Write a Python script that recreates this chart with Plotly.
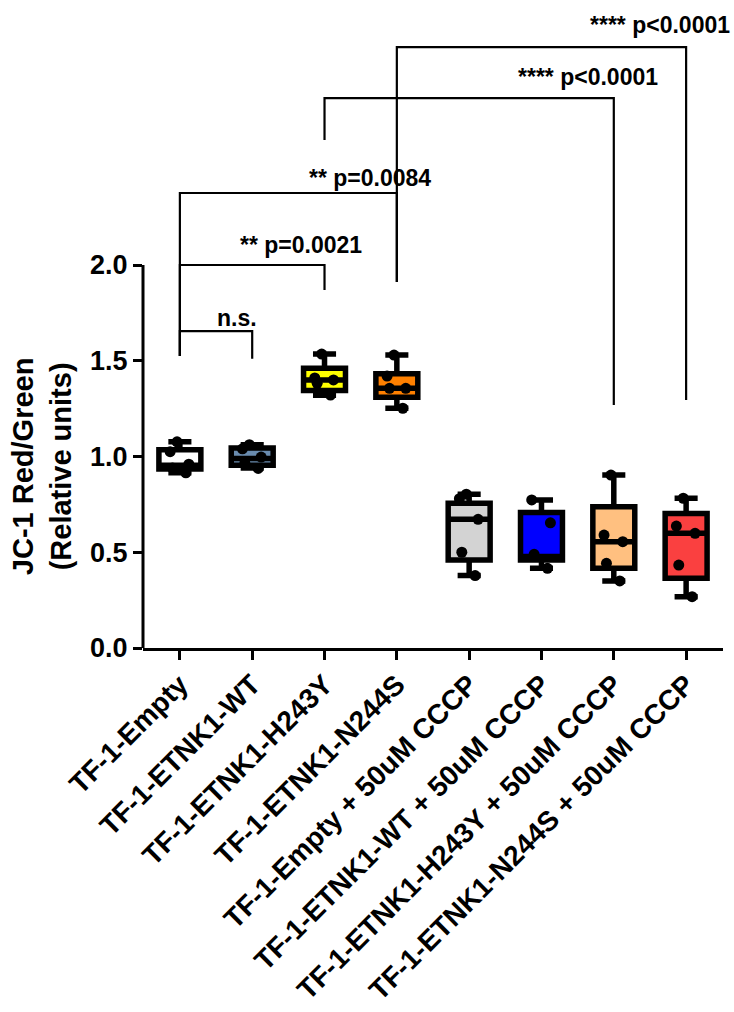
import plotly.graph_objects as go

# Groups on the x axis
groups = [
    "TF-1-Empty",
    "TF-1-ETNK1-WT",
    "TF-1-ETNK1-H243Y",
    "TF-1-ETNK1-N244S",
    "TF-1-Empty + 50uM CCCP",
    "TF-1-ETNK1-WT + 50uM CCCP",
    "TF-1-ETNK1-H243Y + 50uM CCCP",
    "TF-1-ETNK1-N244S + 50uM CCCP",
]

# Box statistics (min-to-max whiskers)
q_min = [0.915, 0.940, 1.320, 1.252, 0.378, 0.416, 0.350, 0.268]
q1 = [0.935, 0.955, 1.345, 1.310, 0.460, 0.460, 0.416, 0.364]
median = [0.955, 0.990, 1.400, 1.356, 0.672, 0.478, 0.555, 0.599]
q3 = [1.035, 1.045, 1.461, 1.432, 0.756, 0.707, 0.738, 0.703]
q_max = [1.077, 1.062, 1.535, 1.530, 0.803, 0.773, 0.903, 0.782]

# Individual replicate measurements
points = [
    [0.915, 0.940, 0.960, 1.025, 1.077],
    [0.938, 0.966, 0.997, 1.040, 1.062],
    [1.321, 1.382, 1.400, 1.410, 1.535],
    [1.252, 1.356, 1.356, 1.420, 1.530],
    [0.378, 0.500, 0.672, 0.780, 0.803],
    [0.416, 0.489, 0.654, 0.773],
    [0.350, 0.442, 0.555, 0.590, 0.903],
    [0.268, 0.433, 0.599, 0.637, 0.782],
]

box_colors = ["#ffffff", "#6a8caf", "#ffff00", "#ff8000",
              "#d3d3d3", "#0000ff", "#ffc080", "#fa4040"]

# Pairwise comparisons: (group a, group b, bar height, leg bottom a, leg bottom b, label)
comparisons = [
    (0, 1, 1.655, 1.525, 1.510, "n.s."),
    (0, 2, 2.000, 1.525, 1.869, "** p=0.0021"),
    (0, 3, 2.376, 1.525, 1.911, "** p=0.0084"),
    (2, 6, 2.872, 2.653, 1.269, "**** p<0.0001"),
    (3, 7, 3.138, 1.911, 1.295, "**** p<0.0001"),
]
# label centre (x in category units, y in data units)
label_pos = [(0.79, 1.723), (1.67, 2.104), (2.63, 2.454), (5.64, 2.982), (6.64, 3.253)]

y_ticks = [0.0, 0.5, 1.0, 1.5, 2.0]

FONT = "Liberation Sans, Arial, sans-serif"

fig = go.Figure()

for i, g in enumerate(groups):
    fig.add_trace(go.Box(
        x=[g], q1=[q1[i]], median=[median[i]], q3=[q3[i]],
        lowerfence=[q_min[i]], upperfence=[q_max[i]],
        fillcolor=box_colors[i],
        line=dict(color="black", width=5.5),
        width=0.58, whiskerwidth=0.55,
        boxpoints=False, showlegend=False, hoverinfo="skip",
    ))
    fig.add_trace(go.Box(
        x=[g] * len(points[i]), y=points[i],
        boxpoints="all", jitter=0.55, pointpos=0,
        fillcolor="rgba(0,0,0,0)", line=dict(color="rgba(0,0,0,0)", width=0),
        marker=dict(color="black", size=11),
        width=0.58, showlegend=False,
    ))

# comparison brackets
for (a, b, h, la, lb, text), (tx, ty) in zip(comparisons, label_pos):
    fig.add_shape(type="path",
                  path=f"M {a},{la} L {a},{h} L {b},{h} L {b},{lb}",
                  xref="x", yref="y",
                  line=dict(color="black", width=2.2))
    fig.add_annotation(x=tx, y=ty, xref="x", yref="y", text=text,
                       showarrow=False, xanchor="center", yanchor="middle",
                       font=dict(family=FONT, size=23, color="black", weight=700))

# y-axis line only over the ticked range
fig.add_shape(type="line", xref="paper", yref="y", x0=0, x1=0, y0=0, y1=2.0,
              line=dict(color="black", width=3))

fig.add_annotation(
    xref="paper", yref="y", x=-0.174, y=0.95,
    text="JC-1 Red/Green<br>(Relative units)", textangle=-90,
    showarrow=False, xanchor="center", yanchor="middle",
    font=dict(family=FONT, size=29, color="black", weight=700),
)

fig.update_layout(
    width=734, height=1012,
    margin=dict(l=143, r=11, t=0, b=364),
    paper_bgcolor="white", plot_bgcolor="white",
    boxmode="overlay", showlegend=False,
    xaxis=dict(
        type="category", categoryorder="array", categoryarray=groups,
        range=[-0.51, 7.51],
        showline=True, linecolor="black", linewidth=3,
        ticks="outside", ticklen=9, tickwidth=3, tickcolor="black",
        tickangle=-45, showgrid=False, zeroline=False, automargin=False,
        ticklabelstandoff=-3,
        tickfont=dict(family=FONT, size=28, color="black", weight=700),
    ),
    yaxis=dict(
        range=[0, 3.384],
        tickvals=y_ticks, ticktext=[f"{v:.1f}" for v in y_ticks],
        showline=False, ticks="outside", ticklen=9, tickwidth=3, tickcolor="black",
        showgrid=False, zeroline=False, automargin=False,
        tickfont=dict(family=FONT, size=27, color="black", weight=700),
    ),
)

fig.write_html("out.html")
